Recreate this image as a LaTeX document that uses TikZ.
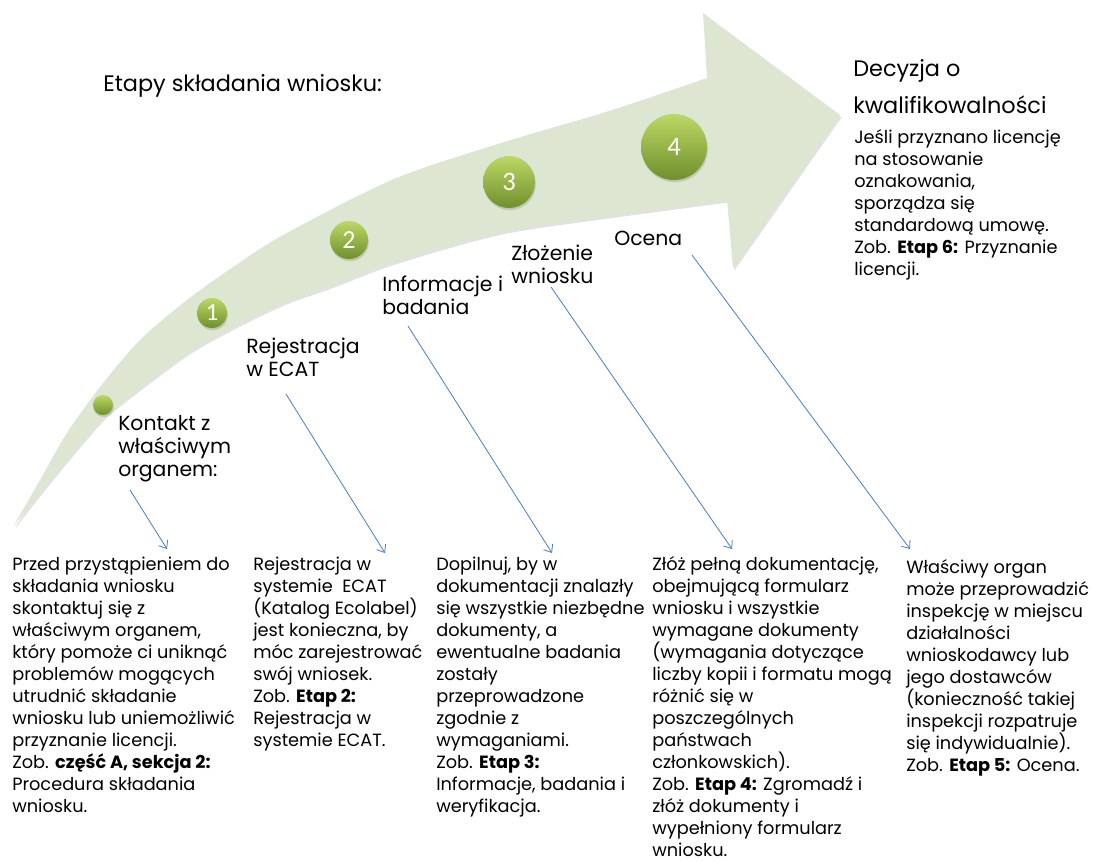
\documentclass[tikz,border=0pt]{standalone}
\usepackage{fontspec}
\setmainfont{Poppins}
\newfontfamily\numfont{Carlito}
\usetikzlibrary{arrows.meta,shadows}

\definecolor{bandgreen}{RGB}{221,230,209}
\definecolor{ballhi}{RGB}{188,216,100}
\definecolor{balllo}{RGB}{112,143,46}
\definecolor{pointerblue}{RGB}{74,126,187}

\tikzset{
  stagelabel/.style={anchor=north west,align=left,inner sep=0pt,font=\fontsize{15.3}{17}\selectfont,
    execute at begin node={\rule{0pt}{1em}}},
  bodytext/.style={anchor=north west,align=left,inner sep=0pt,font=\fontsize{13.3}{16.5}\selectfont,
    execute at begin node={\rule{0pt}{1em}}},
  headtext/.style={anchor=north west,align=left,inner sep=0pt,font=\fontsize{16.8}{27.8}\selectfont,
    execute at begin node={\rule{0pt}{1em}}},
  ball/.style={circle,inner sep=0pt,minimum size=#1,top color=ballhi,bottom color=balllo,
    text=white,drop shadow={shadow xshift=0.6pt,shadow yshift=-1.6pt,opacity=0.3}},
  pointer/.style={pointerblue,line width=0.6pt,-{Straight Barb[length=5pt,width=8pt]}}
}

\newcommand{\bandshape}{(13,527) -- plot[smooth] coordinates {(13,527) (40,480) (67,433) (100,387) (140,340) (187,300) (233,267) (285,234) (394,179) (501,143) (609,111) (707,78)}
  -- (703,13) -- (840,115) -- (733,268) -- (727,200)
  -- plot[smooth] coordinates {(727,200) (615,215) (501,232) (394,262) (333,285) (283,303) (233,327) (187,353) (133,393) (100,421) (50,480) (13,527)} -- cycle}

\begin{document}
\begin{tikzpicture}[x=0.75pt,y=-0.75pt]
  \useasboundingbox (0,0) rectangle (1094,861);
  % arrow band
  \fill[black!25,opacity=0.45,shift={(1.5,2.5)}] \bandshape;
  \fill[bandgreen] \bandshape;

  % steps on the arrow
  \node[ball=15pt] (b0) at (103,405) {};
  \node[ball=22.5pt,font=\numfont\fontsize{18.5}{18.5}\selectfont] (b1) at (212,313) {1};
  \node[ball=28.5pt,font=\numfont\fontsize{19.5}{19.5}\selectfont] (b2) at (349,240) {2};
  \node[ball=39pt,font=\numfont\fontsize{20}{20}\selectfont] (b3) at (509,182) {3};
  \node[ball=49.5pt,font=\numfont\fontsize{20}{20}\selectfont] (b4) at (674,147) {4};

  \node[headtext] (title) at (103,69) {Etapy składania wniosku:};

  \node[stagelabel] (kontakt) at (118,415.6) {Kontakt z\\właściwym\\organem:};
  \node[stagelabel] (rejestracja) at (246,337.6) {Rejestracja\\w ECAT};
  \node[stagelabel] (informacje) at (382,275.6) {Informacje i\\badania};
  \node[stagelabel] (zlozenie) at (511,244.6) {Złożenie\\wniosku};
  \node[stagelabel] (ocena) at (614,224.6) {Ocena};

  \node[headtext] (decyzja) at (853,59.6) {Decyzja o\\kwalifikowalności};
  \node[bodytext] (decyzjaopis) at (854,129.3) {Jeśli przyznano licencję\\na stosowanie\\oznakowania,\\sporządza się\\standardową umowę.\\Zob. \textbf{Etap 6:} Przyznanie\\licencji.};

  % descriptions
  \node[bodytext] (opis1) at (12,556.3) {Przed przystąpieniem do\\składania wniosku\\skontaktuj się z\\właściwym organem,\\który pomoże ci uniknąć\\problemów mogących\\utrudnić składanie\\wniosku lub uniemożliwić\\przyznanie licencji.\\Zob. \textbf{część A, sekcja 2:}\\Procedura składania\\wniosku.};
  \node[bodytext] (opis2) at (253,556.3) {Rejestracja w\\systemie \ ECAT\\(Katalog Ecolabel)\\jest konieczna, by\\móc zarejestrować\\swój wniosek.\\Zob. \textbf{Etap 2:}\\Rejestracja w\\systemie ECAT.};
  \node[bodytext] (opis3) at (436,556.3) {Dopilnuj, by w\\dokumentacji znalazły\\się wszystkie niezbędne\\dokumenty, a\\ewentualne badania\\zostały\\przeprowadzone\\zgodnie z\\wymaganiami.\\Zob. \textbf{Etap 3:}\\Informacje, badania i\\weryfikacja.};
  \node[bodytext] (opis4) at (652,556.3) {Złóż pełną dokumentację,\\obejmującą formularz\\wniosku i wszystkie\\wymagane dokumenty\\(wymagania dotyczące\\liczby kopii i formatu mogą\\różnić się w\\poszczególnych\\państwach\\członkowskich).\\Zob. \textbf{Etap 4:} Zgromadź i\\złóż dokumenty i\\wypełniony formularz\\wniosku.};
  \node[bodytext] (opis5) at (906,559.3) {Właściwy organ\\może przeprowadzić\\inspekcję w miejscu\\działalności\\wnioskodawcy lub\\jego dostawców\\(konieczność takiej\\inspekcji rozpatruje\\się indywidualnie).\\Zob. \textbf{Etap 5:} Ocena.};

  % pointers
  \coordinate (from1) at (130,490);
  \coordinate (to1) at (167,549);
  \coordinate (from2) at (286,394);
  \coordinate (to2) at (385,553);
  \coordinate (from3) at (408,326);
  \coordinate (to3) at (552,553);
  \coordinate (from4) at (551,287);
  \coordinate (to4) at (732,549);
  \coordinate (from5) at (692,255);
  \coordinate (to5) at (910,549);
  \foreach \i in {1,...,5}
    \draw[pointer] (from\i) -- (to\i);
\end{tikzpicture}
\end{document}
